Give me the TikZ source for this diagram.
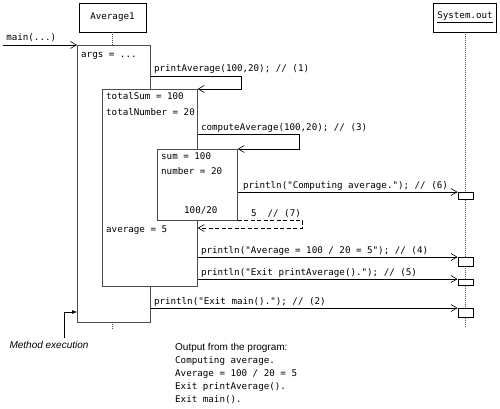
\documentclass[tikz,border=0pt]{standalone}
\usepackage{fontspec}
\setmonofont{DejaVu Sans Mono}
\setsansfont{Liberation Sans}
\usetikzlibrary{arrows.meta}

\tikzset{
  code/.style={font=\ttfamily\fontsize{9.2}{11}\selectfont, inner sep=0pt},
  head/.style={draw, fill=white, line width=0.6pt, minimum height=29, code},
  act/.style={draw=black!70, fill=white, line width=0.7pt, anchor=north west, inner sep=0pt},
  outbox/.style={draw, fill=white, line width=0.6pt, minimum width=15, inner sep=0pt, anchor=north west},
  msg/.style={line width=0.6pt, -{Straight Barb[length=6pt,width=7pt]}},
  ret/.style={msg, dash pattern=on 4pt off 2.5pt},
  life/.style={black!70, line width=0.5pt, dash pattern=on 1pt off 1pt},
  lbl/.style={code, anchor=base west, xshift=3pt, yshift=4pt},
  vars/.style={code, anchor=base west},
  note/.style={font=\sffamily\itshape\fontsize{10}{12}\selectfont},
  outtitle/.style={font=\sffamily\fontsize{10}{12}\selectfont, inner sep=0pt, anchor=base west}
}

\begin{document}
\begin{tikzpicture}[x=1pt, y=-1pt]
\useasboundingbox (0,0) rectangle (500,409);

%--- Object heads and lifelines ---
\node[head, minimum width=67] (avg) at (112.5,17.5) {Average1};
\node[head, minimum width=63] (sysout) at (465,17.5) {\underline{System.out}};
\draw[life] (avg.south) -- ++(0,298);
\draw[life] (sysout.south) -- ++(0,295);

%--- Method executions ---
\node[act, minimum width=73, minimum height=277] (mainAct) at (77,45) {};
\node[act, minimum width=95, minimum height=197] (printAct) at (102,89) {};
\node[act, minimum width=80, minimum height=71] (computeAct) at (157,149) {};

% Local variables
\node[vars] (args) at (81,58) {args = ...};
\node[vars] (totSum) at (106,100) {totalSum = 100};
\node[vars] (totNum) at (106,115) {totalNumber = 20};
\node[vars] (sum) at (161,159) {sum = 100};
\node[vars] (num) at (161,174) {number = 20};
\node[vars] (quot) at (184,213) {100/20};
\node[vars] (avgVal) at (106,232) {average = 5};

%--- Output boxes on System.out ---
\node[outbox, minimum height=7] (o6) at (457.5,192) {};
\node[outbox, minimum height=9] (o4) at (457.5,257) {};
\node[outbox, minimum height=6] (o5) at (457.5,279) {};
\node[outbox, minimum height=9] (o2) at (457.5,308) {};

%--- Messages ---
\coordinate (caller) at (3,45);
\draw[msg] (caller) -- node[lbl, pos=0] {main(...)} (mainAct.north west);

\draw[msg] ([yshift=-31pt]mainAct.north east)
  -- node[lbl, pos=0] {printAverage(100,20); // (1)} ++(91,0)
  |- (printAct.north east);

\draw[msg] ([yshift=-45pt]printAct.north east)
  -- node[lbl, pos=0] {computeAverage(100,20); // (3)} ++(102,0)
  |- (computeAct.north east);

\draw[msg] ([yshift=-43pt]computeAct.north east)
  -- node[lbl, pos=0, xshift=2pt] {println("Computing average."); // (6)} (o6.north west);

% Return value
\draw[ret] (computeAct.south east)
  -- node[lbl, pos=0, xshift=10pt] {5\ \ // (7)} ++(65,0)
  |- ([yshift=-139pt]printAct.north east);

\draw[msg] ([yshift=-168pt]printAct.north east)
  -- node[lbl, pos=0] {println("Average = 100 / 20 = 5"); // (4)} (o4.north west);

\draw[msg] ([yshift=-190pt]printAct.north east)
  -- node[lbl, pos=0] {println("Exit printAverage()."); // (5)} (o5.north west);

\draw[msg] ([yshift=-263pt]mainAct.north east)
  -- node[lbl, pos=0] {println("Exit main()."); // (2)} (o2.north west);

%--- Annotation ---
\node[note] (noteTxt) at (49,345) {Method execution};
\draw[line width=0.6pt, -{Latex[length=5pt,width=4pt]}]
  ([xshift=15pt]noteTxt.north) |- ([yshift=-267pt]mainAct.north west);

%--- Program output ---
\node[outtitle] (outHead) at (175,350) {Output from the program:};
\node[vars] (out1) at (175,363) {Computing average.};
\node[vars] (out2) at (175,376) {Average = 100 / 20 = 5};
\node[vars] (out3) at (175,389) {Exit printAverage().};
\node[vars] (out4) at (175,402) {Exit main().};
\end{tikzpicture}
\end{document}
